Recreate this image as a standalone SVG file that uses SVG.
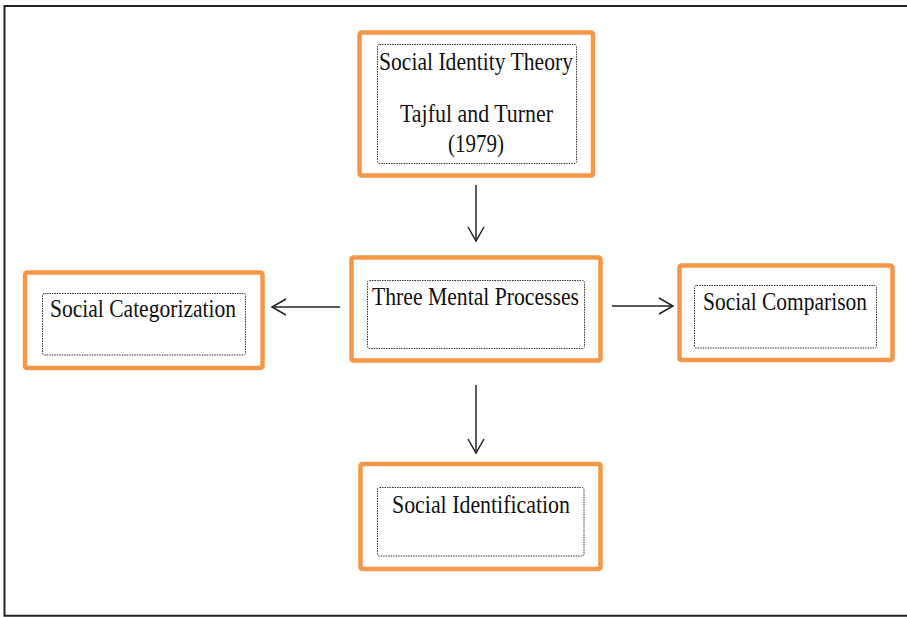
<svg xmlns="http://www.w3.org/2000/svg" width="907" height="617" viewBox="0 0 907 617">
<style>
.outer{fill:#ffffff;stroke:#F79646;stroke-width:4.5}
.inner{fill:none;stroke:#333333;stroke-width:1;stroke-dasharray:1.5 1}
.lbl{font-family:"Liberation Serif","Times New Roman",serif;font-size:25px;fill:#111111}
.conn{stroke:#222222;stroke-width:1.5;fill:none}
</style>
<defs>
<marker id="arr" markerUnits="userSpaceOnUse" markerWidth="20" markerHeight="20" viewBox="0 0 20 20" refX="15" refY="10" orient="auto">
<path d="M1,2 L15,10 L1,18" fill="none" stroke="#222222" stroke-width="1.5"/>
</marker>
</defs>
<rect x="0" y="0" width="907" height="617" fill="#ffffff"/>
<path d="M907,6 H4.5 V615.8 H907" fill="none" stroke="#222222" stroke-width="2"/>

<g id="connectors">
<line class="conn" x1="476" y1="185" x2="476" y2="241" marker-end="url(#arr)"/>
<line class="conn" x1="340" y1="307" x2="272" y2="307" marker-end="url(#arr)"/>
<line class="conn" x1="612" y1="306" x2="673" y2="306" marker-end="url(#arr)"/>
<line class="conn" x1="476" y1="385" x2="476" y2="453" marker-end="url(#arr)"/>
</g>

<g id="sit">
<rect class="outer" x="359.5" y="32.5" width="233.5" height="143" rx="2"/>
<rect class="inner" x="377.5" y="44.5" width="199" height="119" rx="2"/>
<text class="lbl" x="379" y="70" textLength="194" lengthAdjust="spacingAndGlyphs">Social Identity Theory</text>
<text class="lbl" x="400" y="122" textLength="153" lengthAdjust="spacingAndGlyphs">Tajful and Turner</text>
<text class="lbl" x="448" y="152" textLength="56" lengthAdjust="spacingAndGlyphs">(1979)</text>
</g>

<g id="tmp">
<rect class="outer" x="351.5" y="257.5" width="249" height="103" rx="2"/>
<rect class="inner" x="367.5" y="280.5" width="217" height="68" rx="2"/>
<text class="lbl" x="372" y="305" textLength="207" lengthAdjust="spacingAndGlyphs">Three Mental Processes</text>
</g>

<g id="sc">
<rect class="outer" x="25" y="272.5" width="237.5" height="95.5" rx="2"/>
<rect class="inner" x="42.5" y="293.5" width="203" height="61.5" rx="2"/>
<text class="lbl" x="50" y="317" textLength="186" lengthAdjust="spacingAndGlyphs">Social Categorization</text>
</g>

<g id="scomp">
<rect class="outer" x="679.5" y="265.5" width="213" height="94.5" rx="2"/>
<rect class="inner" x="694.5" y="285.5" width="182" height="62.5" rx="2"/>
<text class="lbl" x="703" y="310" textLength="164" lengthAdjust="spacingAndGlyphs">Social Comparison</text>
</g>

<g id="sid">
<rect class="outer" x="360.5" y="464" width="240" height="105" rx="2"/>
<rect class="inner" x="377.5" y="487.5" width="206.5" height="68.5" rx="2"/>
<text class="lbl" x="392" y="513" textLength="178" lengthAdjust="spacingAndGlyphs">Social Identification</text>
</g>
</svg>
